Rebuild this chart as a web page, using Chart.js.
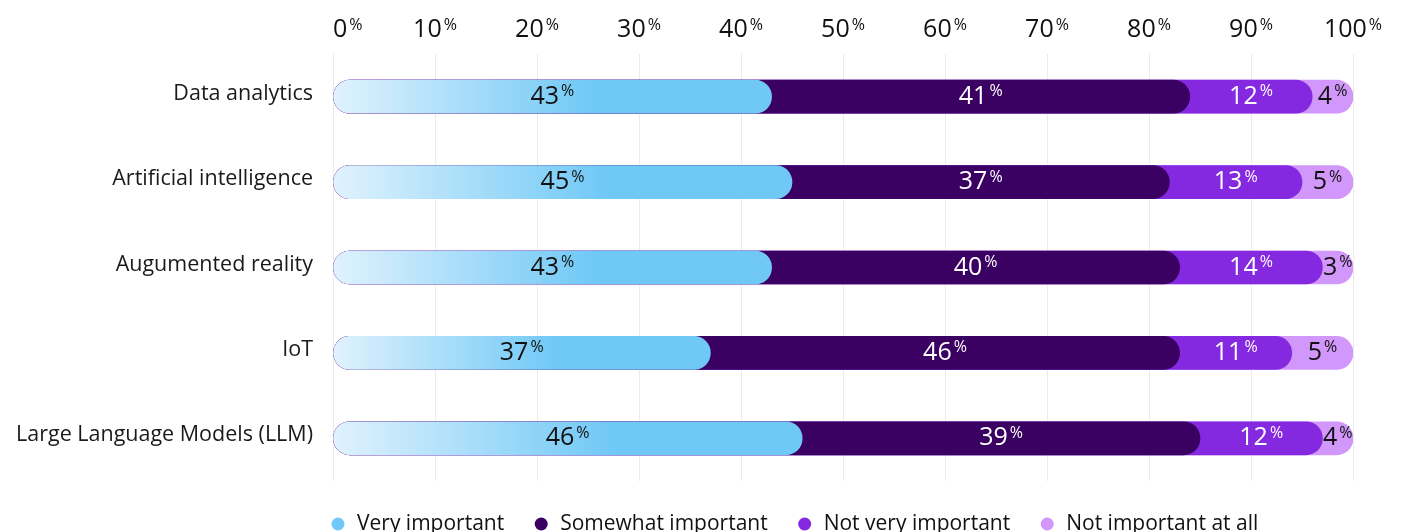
<!DOCTYPE html>
<html>
<head>
<meta charset="utf-8">
<script src="https://cdn.jsdelivr.net/npm/chart.js@4.4.1/dist/chart.umd.min.js"></script>
<style>
    html, body { margin: 0; padding: 0; background: #fff; overflow: hidden; }
    #wrap { width: 1406px; height: 532px; position: relative; }
</style>
</head>
<body>
<div id="wrap"><canvas id="importanceChart"></canvas></div>
<script>
const categories = ['Data analytics', 'Artificial intelligence', 'Augumented reality', 'IoT', 'Large Language Models (LLM)'];
const seriesNames = ['Very important', 'Somewhat important', 'Not very important', 'Not important at all'];
const veryImportant = [43, 45, 43, 37, 46];
const somewhatImportant = [41, 37, 40, 46, 39];
const notVeryImportant = [12, 13, 14, 11, 12];
const notImportantAtAll = [4, 5, 3, 5, 4];
const tickValues = [0, 10, 20, 30, 40, 50, 60, 70, 80, 90, 100];

const seriesColors = ['#6fc8f6', '#3a0062', '#8529e1', '#d197fa'];
const labelColors = ['#111111', '#ffffff', '#ffffff', '#111111'];
const FONT = '"Open Sans", "Noto Sans", sans-serif';

const allSeries = [veryImportant, somewhatImportant, notVeryImportant, notImportantAtAll];

// each segment is a floating bar from 0 to its running total, so the
// rounded end of one segment sits over the start of the next one
const runningEnds = allSeries.map((s, k) => categories.map((c, i) => {
    if (k === allSeries.length - 1) return 100; // last segment fills to the end
    let sum = 0;
    for (let j = 0; j <= k; j++) sum += allSeries[j][i];
    return sum;
}));

const blueGradient = (context) => {
    const chart = context.chart;
    if (!chart.chartArea) return seriesColors[0];
    const x = chart.scales.x;
    const x0 = x.getPixelForValue(0);
    const x1 = x.getPixelForValue(veryImportant[context.dataIndex] || 40);
    const g = chart.ctx.createLinearGradient(x0, 0, x0 + (x1 - x0) * 0.6, 0);
    g.addColorStop(0, '#e0f2fd');
    g.addColorStop(1, seriesColors[0]);
    return g;
};

// number with a small raised "%" after it
const drawPercent = (ctx, x, y, num, bigSize, smallSize, align, color) => {
    ctx.save();
    ctx.fillStyle = color;
    ctx.textBaseline = 'middle';
    ctx.textAlign = 'left';
    ctx.font = `400 ${bigSize}px ${FONT}`;
    const w1 = ctx.measureText(String(num)).width;
    ctx.font = `400 ${smallSize}px ${FONT}`;
    const w2 = ctx.measureText('%').width;
    const gap = 2;
    const total = w1 + gap + w2;
    const start = align === 'left' ? x : x - total / 2;
    ctx.font = `400 ${bigSize}px ${FONT}`;
    ctx.fillText(String(num), start, y);
    ctx.font = `400 ${smallSize}px ${FONT}`;
    ctx.fillText('%', start + w1 + gap, y - bigSize * 0.2);
    ctx.restore();
};

const labelsPlugin = {
    id: 'segmentLabels',
    afterDraw(chart) {
        const ctx = chart.ctx;
        const x = chart.scales.x;
        const y = chart.scales.y;

        // top tick labels
        x.ticks.forEach((t, i) => {
            const px = x.getPixelForValue(t.value);
            drawPercent(ctx, px, 30, t.value, 25, 16, i === 0 ? 'left' : 'center', '#111111');
        });

        // values inside the segments
        categories.forEach((c, i) => {
            const py = y.getPixelForValue(i);
            let start = 0;
            allSeries.forEach((s, k) => {
                const end = runningEnds[k][i];
                const mid = x.getPixelForValue((start + end) / 2);
                drawPercent(ctx, mid, py, s[i], 25, 16, 'center', labelColors[k]);
                start = end;
            });
        });

        // legend along the bottom, starting at the plot's left edge
        ctx.save();
        ctx.font = `400 21px ${FONT}`;
        ctx.textBaseline = 'middle';
        ctx.textAlign = 'left';
        let lx = chart.chartArea.left + 5;
        const ly = 524;
        seriesNames.forEach((name, k) => {
            ctx.fillStyle = seriesColors[k];
            ctx.beginPath();
            ctx.arc(lx, ly, 6.5, 0, Math.PI * 2);
            ctx.fill();
            ctx.fillStyle = '#111111';
            ctx.fillText(name, lx + 19, ly);
            lx += 19 + ctx.measureText(name).width + 37;
        });
        ctx.restore();
    }
};

const canvas = document.getElementById('importanceChart');
new Chart(canvas.getContext('2d'), {
    type: 'bar',
    data: {
        labels: categories,
        datasets: seriesNames.map((name, k) => ({
            label: name,
            data: runningEnds[k].map(e => [0, e]),
            backgroundColor: k === 0 ? blueGradient : seriesColors[k],
            borderWidth: 0,
            borderRadius: 17,
            borderSkipped: false,
            barThickness: 33,
            grouped: false
        }))
    },
    options: {
        indexAxis: 'y',
        responsive: true,
        maintainAspectRatio: false,
        animation: false,
        layout: { padding: { top: 0, right: 53, bottom: 51, left: 0 } },
        plugins: {
            legend: { display: false },
            tooltip: { enabled: false }
        },
        scales: {
            x: {
                position: 'top',
                min: 0,
                max: 100,
                ticks: { stepSize: 10, display: false },
                grid: { color: '#ebebeb', lineWidth: 1, drawTicks: false },
                border: { display: false },
                afterFit(scale) { scale.height = 54; }
            },
            y: {
                grid: { display: false, drawTicks: false },
                border: { display: false },
                ticks: {
                    padding: 20,
                    labelOffset: -3,
                    color: '#1a1a1a',
                    font: { family: FONT, size: 21.5 }
                },
                afterFit(scale) { scale.width = 333; }
            }
        }
    },
    plugins: [labelsPlugin]
});
</script>
</body>
</html>
